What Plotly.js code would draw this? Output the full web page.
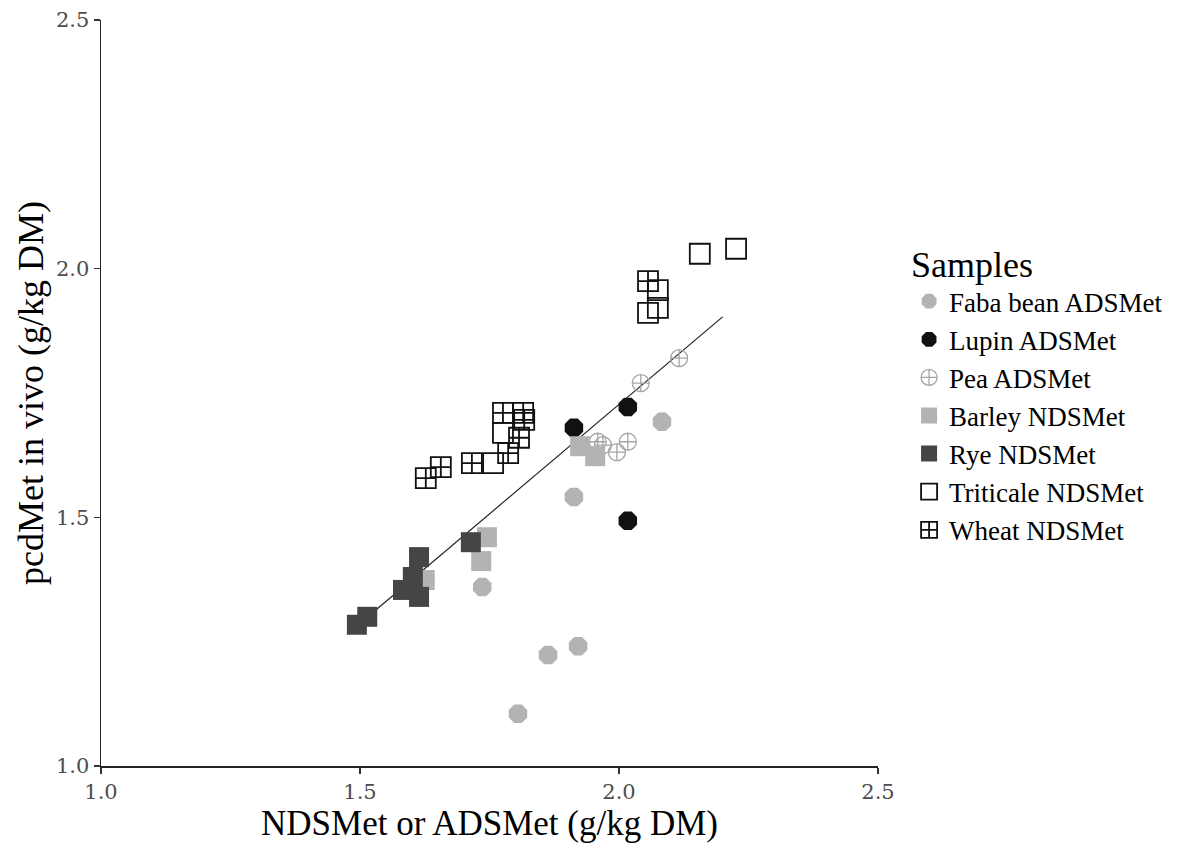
<!DOCTYPE html>
<html>
<head>
<meta charset="utf-8">
<script src="https://cdn.plot.ly/plotly-3.0.1.min.js"></script>
<style>html,body{margin:0;padding:0;background:#fff;}#chart{width:1199px;height:843px;}</style>
</head>
<body>
<div id="chart"></div>
<script>
// Data
const fabaX = [1.913, 2.083, 1.736, 1.921, 1.863, 1.805];
const fabaY = [1.541, 1.692, 1.360, 1.241, 1.223, 1.105];

const lupinX = [1.913, 2.017, 2.017];
const lupinY = [1.680, 1.722, 1.493];

const peaX = [2.116, 2.042, 1.959, 1.969, 1.996, 2.017];
const peaY = [1.820, 1.770, 1.652, 1.645, 1.631, 1.652];

const barleyX = [1.925, 1.954, 1.745, 1.734, 1.625];
const barleyY = [1.643, 1.623, 1.460, 1.412, 1.374];

const ryeX = [1.494, 1.514, 1.583, 1.602, 1.614, 1.614, 1.714];
const ryeY = [1.284, 1.300, 1.354, 1.380, 1.420, 1.340, 1.450];

const triticaleX = [1.776, 1.757, 2.075, 2.075, 2.056, 2.156, 2.226];
const triticaleY = [1.670, 1.609, 1.957, 1.921, 1.911, 2.030, 2.040];

const wheatX = [1.627, 1.656, 1.716, 1.776, 1.786, 1.807, 1.815, 1.817, 2.056];
const wheatY = [1.579, 1.601, 1.609, 1.710, 1.629, 1.660, 1.710, 1.696, 1.975];

const fitX = [1.49, 2.20];
const fitY = [1.278, 1.903];

const xTicks = [1.0, 1.5, 2.0, 2.5];
const yTicks = [1.0, 1.5, 2.0, 2.5];
const tickText = ['1.0', '1.5', '2.0', '2.5'];

const serif = 'Liberation Serif, Times New Roman, serif';
const tickSerif = 'DejaVu Serif, serif';

function pts(name, x, y, symbol, color, size, lineColor, lineWidth) {
  return {
    type: 'scatter', mode: 'markers', name: name, x: x, y: y,
    legendgroup: name,
    marker: {symbol: symbol, color: color, size: size,
             line: {color: lineColor, width: lineWidth}}
  };
}

const traces = [
  {type: 'scatter', mode: 'lines', x: fitX, y: fitY, showlegend: false,
   line: {color: '#222', width: 1.2}, hoverinfo: 'skip'},
  pts('Faba bean ADSMet', fabaX, fabaY, 'octagon', '#b3b3b3', 20, '#b3b3b3', 0),
  pts('Lupin ADSMet', lupinX, lupinY, 'octagon', '#111111', 20, '#111111', 0),
  pts('Pea ADSMet', peaX, peaY, 'circle-cross-open', '#a6a6a6', 17, '#a6a6a6', 1.3),
  pts('Barley NDSMet', barleyX, barleyY, 'square', '#b3b3b3', 20, '#b3b3b3', 0),
  pts('Rye NDSMet', ryeX, ryeY, 'square', '#454545', 20, '#454545', 0),
  pts('Triticale NDSMet', triticaleX, triticaleY, 'square-open', '#111111', 20, '#111111', 1.8),
  pts('Wheat NDSMet', wheatX, wheatY, 'square-cross-open', '#111111', 20, '#111111', 1.8)
];

const layout = {
  width: 1199, height: 843,
  margin: {l: 101, r: 321, t: 20, b: 77},
  paper_bgcolor: '#ffffff', plot_bgcolor: '#ffffff',
  font: {family: serif, color: '#000'},
  showlegend: true,
  xaxis: {
    range: [1.0, 2.5], tickvals: xTicks, ticktext: tickText,
    showgrid: false, zeroline: false, showline: true, linecolor: '#222', linewidth: 1.5,
    ticks: 'outside', ticklen: 6, tickcolor: '#333', tickwidth: 1.2,
    tickfont: {family: tickSerif, size: 21, color: '#4d4d4d'},
    title: {text: 'NDSMet or ADSMet (g/kg DM)', font: {family: serif, size: 35, color: '#000'}, standoff: 2}
  },
  yaxis: {
    range: [1.0, 2.5], tickvals: yTicks, ticktext: tickText,
    showgrid: false, zeroline: false, showline: true, linecolor: '#222', linewidth: 1.5,
    ticks: 'outside', ticklen: 6, tickcolor: '#333', tickwidth: 1.2,
    tickfont: {family: tickSerif, size: 21, color: '#4d4d4d'},
    title: {text: 'pcdMet in vivo (g/kg DM)', font: {family: serif, size: 36, color: '#000'}, standoff: 1}
  },
  legend: {
    x: 1.04, xanchor: 'left', y: 0.718, yanchor: 'top',
    title: {text: 'Samples', font: {family: serif, size: 36, color: '#000'}},
    font: {family: serif, size: 27, color: '#000'},
    tracegroupgap: 0,
    bgcolor: 'rgba(0,0,0,0)'
  }
};

Plotly.newPlot('chart', traces, layout, {displayModeBar: false, staticPlot: true});
</script>
</body>
</html>
